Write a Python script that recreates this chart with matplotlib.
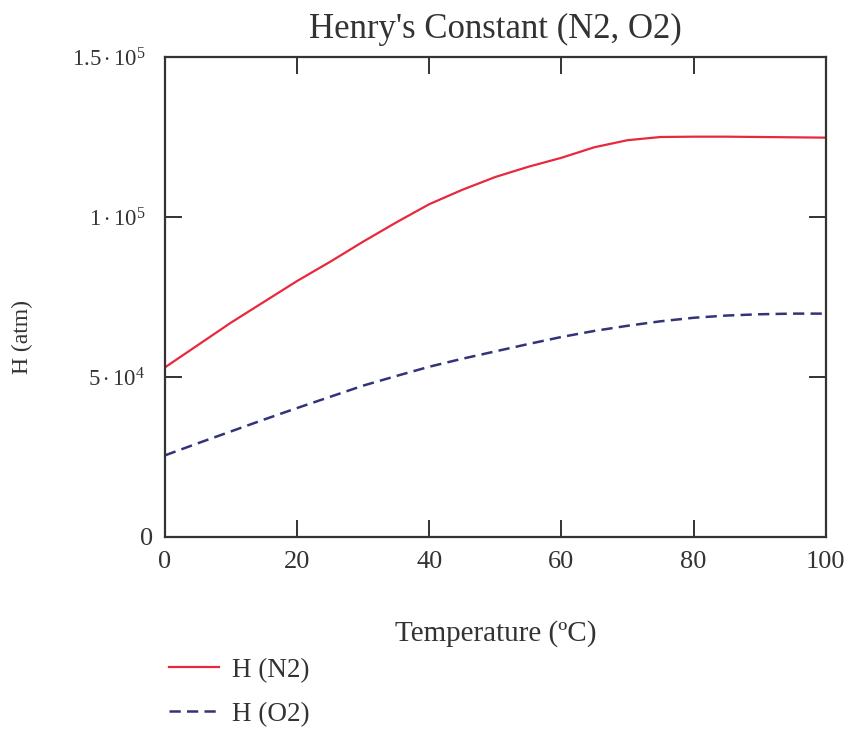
import numpy as np
import matplotlib
matplotlib.use('Agg')
from matplotlib import pyplot as plt

temp = [0, 5, 10, 15, 20, 25, 30, 35, 40, 45, 50, 55, 60, 65, 70, 75, 80, 85, 90, 95, 100]
h_n2 = [53000, 60000, 67000, 73500, 80000, 86000, 92300, 98300, 104000, 108500, 112500,
        115700, 118500, 121800, 124000, 125000, 125100, 125100, 125000, 124900, 124800]
h_o2 = [25500, 29300, 33000, 36700, 40300, 43800, 47300, 50300, 53200, 55700, 58000,
        60300, 62500, 64400, 66000, 67400, 68500, 69200, 69600, 69800, 69800]

y_ticks = [0, 50000, 100000, 150000]
y_tick_labels = ['0', r'$5\cdot10^4$', r'$1\cdot10^5$', r'$1.5\cdot10^5$']
x_ticks = [0, 20, 40, 60, 80, 100]

plt.rcParams['font.family'] = ['Liberation Serif', 'DejaVu Serif']
plt.rcParams['mathtext.fontset'] = 'custom'
plt.rcParams['mathtext.rm'] = 'Liberation Serif'
plt.rcParams['mathtext.it'] = 'Liberation Serif:italic'

fig = plt.figure(figsize=(8.53, 7.53), dpi=100)
ax = fig.add_axes([0.1934, 0.2869, 0.7746, 0.6374])

ax.plot(temp, h_n2, color='#e8283c', lw=1.6, label='H (N2)')
ax.plot(temp, h_o2, color='#33337a', lw=1.8, ls=(0, (4.5, 2.5)), label='H (O2)')

ax.set_xlim(0, 100)
ax.set_ylim(0, 150000)
ax.set_xticks(x_ticks)
ax.set_yticks(y_ticks)
ax.set_yticklabels(y_tick_labels)
ax.tick_params(direction='in', length=12, width=1.4, top=True, right=True,
               colors='#333333')
ax.tick_params(axis='x', labelsize=19, pad=10)
ax.tick_params(axis='y', labelsize=16.5, pad=14)
for sp in ax.spines.values():
    sp.set_linewidth(1.6)
    sp.set_color('#333333')

# the plain "0" sits closer to the axis than the power labels
zero_lbl = ax.get_yticklabels()[0]
zero_lbl.set_fontsize(19)
zero_lbl.set_x(0.012)

ax.set_title("Henry's Constant (N2, O2)", fontsize=25, color='#333333', pad=14)
ax.set_xlabel('Temperature (ºC)', fontsize=21, color='#333333', labelpad=34)
ax.set_ylabel('H (atm)', fontsize=17, color='#333333')
ax.yaxis.set_label_coords(-0.2, 0.417)

fig.legend(loc='upper left', bbox_to_anchor=(0.170, 0.159), frameon=False,
           fontsize=19.5, handlelength=1.85, handletextpad=0.45, labelspacing=0.7,
           labelcolor='#333333')

fig.savefig('out.png', dpi=100, facecolor='white')
